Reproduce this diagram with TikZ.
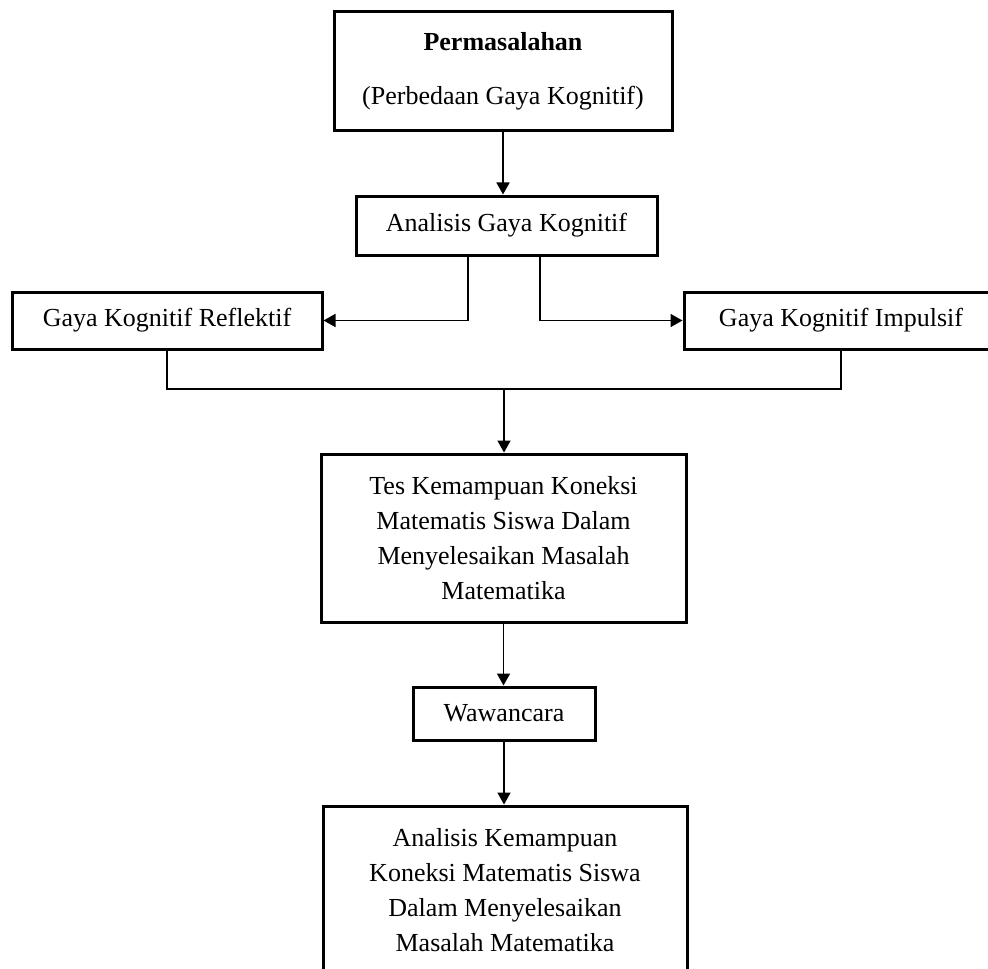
\documentclass[tikz,border=0pt]{standalone}
\usepackage{fontspec}
\setmainfont{Liberation Serif}
\usetikzlibrary{arrows.meta}

\begin{document}
\begin{tikzpicture}[x=0.5pt, y=-0.5pt,
    box/.style={draw, line width=1.5pt, align=center, inner sep=0pt,
      font=\fontsize{13}{17.6}\selectfont},
    link/.style={line width=0.85pt, -{Triangle[length=6pt,width=6.5pt]}},
    wire/.style={line width=0.85pt}]
    \useasboundingbox (0,0) rectangle (988,968);
    \clip (0,0) rectangle (988,968);
    \node[box, minimum width=169pt, minimum height=59.5pt] at (503, 71.5) (perm)
      {\textbf{Permasalahan}\\[9.5pt](Perbedaan Gaya Kognitif)};
    \node[box, minimum width=150.5pt, minimum height=29.5pt] at (506.5, 225.5) (anal)
      {Analisis Gaya Kognitif};
    \node[box, minimum width=155pt, minimum height=28.5pt] at (167, 320.5) (refl)
      {Gaya Kognitif Reflektif};
    \node[box, minimum width=157pt, minimum height=28.5pt] at (841, 320.5) (impl)
      {Gaya Kognitif Impulsif};
    \node[box, minimum width=182.5pt, minimum height=84pt] at (503.5, 538) (tes)
      {Tes Kemampuan Koneksi\\Matematis Siswa Dalam\\Menyelesaikan Masalah\\Matematika};
    \node[box, minimum width=91pt, minimum height=26.5pt] at (504, 713.5) (waw)
      {Wawancara};
    \node[box, minimum width=182pt, minimum height=84pt] at (505, 890) (fin)
      {Analisis Kemampuan\\Koneksi Matematis Siswa\\Dalam Menyelesaikan\\Masalah Matematika};
    \coordinate (join) at (504, 389);
    \path
      (perm.south) edge[link] (perm.south |- anal.north)
      (join) edge[link] (join |- tes.north)
      (tes.south) edge[link] (tes.south |- waw.north)
      (waw.south) edge[link] (waw.south |- fin.north);
    % branches out of the analysis box
    \draw[link] ([xshift=-19.25pt]anal.south) |- (refl.east);
    \draw[link] ([xshift=16.75pt]anal.south) |- (impl.west);
    \draw[wire] (refl.south) |- (join) -| (impl.south);
  \end{tikzpicture}
\end{document}
